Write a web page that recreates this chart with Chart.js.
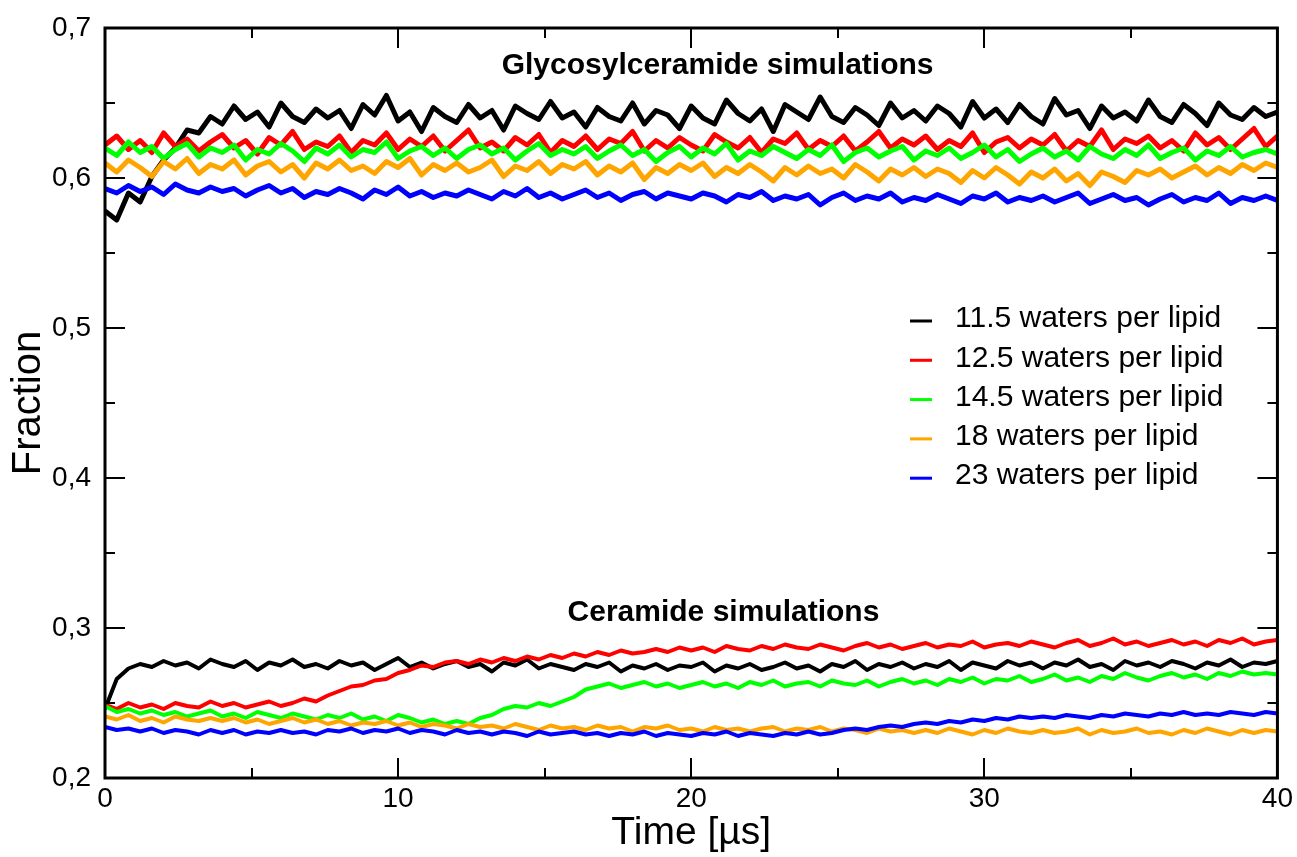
<!DOCTYPE html>
<html>
<head>
<meta charset="utf-8">
<script src="https://cdn.jsdelivr.net/npm/chart.js@4/dist/chart.umd.min.js"></script>
<style>
  body { margin: 0; background: #fff; }
  canvas { display: block; }
</style>
</head>
<body>
<canvas id="chart" width="1297" height="857"></canvas>
<script>
// sample times in microseconds (every 0.4 us)
const times = Array.from({ length: 101 }, (_, i) => +(i * 0.4).toFixed(1));

const seriesLabels = ['11.5 waters per lipid', '12.5 waters per lipid', '14.5 waters per lipid', '18 waters per lipid', '23 waters per lipid'];
const seriesColors = ['#000000', '#ff0000', '#00ff00', '#ffa500', '#0000ff'];

// Glycosylceramide simulations
const glcBlack = [
  0.578, 0.572, 0.590, 0.584, 0.601, 0.612, 0.620, 0.632, 0.630, 0.641,
  0.636, 0.648, 0.639, 0.644, 0.634, 0.650, 0.641, 0.637, 0.646, 0.640,
  0.645, 0.633, 0.649, 0.642, 0.655, 0.638, 0.644, 0.631, 0.647, 0.641,
  0.637, 0.649, 0.640, 0.645, 0.632, 0.648, 0.643, 0.639, 0.651, 0.640,
  0.644, 0.634, 0.647, 0.641, 0.638, 0.650, 0.636, 0.645, 0.642, 0.633,
  0.648, 0.640, 0.636, 0.652, 0.643, 0.638, 0.646, 0.631, 0.649, 0.644,
  0.639, 0.654, 0.641, 0.637, 0.647, 0.642, 0.635, 0.650, 0.640, 0.645,
  0.638, 0.648, 0.643, 0.634, 0.651, 0.640, 0.646, 0.637, 0.649, 0.641,
  0.636, 0.653, 0.642, 0.645, 0.633, 0.648, 0.640, 0.644, 0.638, 0.652,
  0.641, 0.637, 0.649, 0.643, 0.635, 0.650, 0.642, 0.639, 0.647, 0.641,
  0.644
];
const glcRed = [
  0.622, 0.628, 0.619, 0.625, 0.617, 0.630, 0.621, 0.626, 0.618, 0.624,
  0.629, 0.620, 0.625, 0.616, 0.627, 0.622, 0.631, 0.619, 0.624, 0.621,
  0.628, 0.617, 0.625, 0.622, 0.630, 0.619, 0.626, 0.621, 0.628, 0.618,
  0.625, 0.632, 0.620, 0.624, 0.618, 0.627, 0.622, 0.629, 0.617, 0.625,
  0.621, 0.628, 0.619, 0.626, 0.623, 0.631, 0.618, 0.625, 0.620, 0.627,
  0.622, 0.618, 0.629, 0.624, 0.620, 0.627, 0.617, 0.626, 0.623, 0.630,
  0.619, 0.625, 0.621, 0.628, 0.618, 0.624, 0.631, 0.620, 0.626, 0.622,
  0.628, 0.619, 0.625, 0.621, 0.630, 0.617, 0.624, 0.627, 0.620, 0.626,
  0.622, 0.629, 0.618, 0.625, 0.621, 0.632, 0.619, 0.626, 0.623, 0.628,
  0.620, 0.625, 0.618, 0.630, 0.622, 0.627, 0.619, 0.626, 0.633, 0.621,
  0.628
];
const glcGreen = [
  0.620, 0.615, 0.624, 0.617, 0.621, 0.613, 0.619, 0.623, 0.614, 0.620,
  0.617, 0.622, 0.612, 0.619, 0.616, 0.623, 0.618, 0.611, 0.620, 0.616,
  0.622, 0.614, 0.619, 0.617, 0.624, 0.613, 0.618, 0.621, 0.615, 0.620,
  0.613, 0.619, 0.622, 0.616, 0.620, 0.612, 0.618, 0.623, 0.615, 0.619,
  0.616, 0.621, 0.613, 0.618, 0.622, 0.615, 0.619, 0.611, 0.617, 0.621,
  0.614, 0.620, 0.616, 0.623, 0.612, 0.618, 0.615, 0.621, 0.617, 0.613,
  0.619, 0.615, 0.622, 0.611, 0.617, 0.620, 0.614, 0.618, 0.621, 0.612,
  0.618, 0.615, 0.620, 0.613, 0.617, 0.622, 0.614, 0.619, 0.611, 0.616,
  0.620, 0.614, 0.618, 0.612, 0.621, 0.616, 0.613, 0.619, 0.615, 0.622,
  0.613, 0.617, 0.620, 0.612, 0.618, 0.615, 0.621, 0.614, 0.617, 0.619,
  0.616
];
const glcOrange = [
  0.610, 0.604, 0.612, 0.607, 0.601, 0.611, 0.606, 0.613, 0.603, 0.609,
  0.606, 0.612, 0.602, 0.608, 0.611, 0.604, 0.609, 0.600, 0.610, 0.606,
  0.612, 0.605, 0.608, 0.603, 0.611, 0.607, 0.613, 0.602, 0.609, 0.605,
  0.610, 0.604, 0.607, 0.612, 0.601, 0.608, 0.605, 0.611, 0.603, 0.609,
  0.606, 0.611, 0.602, 0.608, 0.604, 0.610, 0.599, 0.607, 0.603, 0.609,
  0.605, 0.610, 0.601, 0.607, 0.603, 0.609, 0.604, 0.598, 0.607, 0.602,
  0.608, 0.603, 0.606, 0.600, 0.609, 0.604, 0.598, 0.606, 0.602, 0.607,
  0.601, 0.606, 0.603, 0.597, 0.605, 0.600, 0.607, 0.602, 0.596, 0.604,
  0.600, 0.606, 0.598, 0.603, 0.595, 0.604, 0.601, 0.597, 0.605, 0.602,
  0.606, 0.600, 0.604, 0.608, 0.602, 0.607, 0.603, 0.609, 0.605, 0.610,
  0.607
];
const glcBlue = [
  0.593, 0.590, 0.595, 0.591, 0.594, 0.589, 0.596, 0.592, 0.590, 0.594,
  0.591, 0.593, 0.588, 0.592, 0.595, 0.590, 0.593, 0.587, 0.591, 0.589,
  0.593, 0.590, 0.586, 0.592, 0.589, 0.594, 0.588, 0.591, 0.587, 0.590,
  0.588, 0.592, 0.589, 0.586, 0.591, 0.588, 0.593, 0.587, 0.590, 0.586,
  0.589, 0.592, 0.587, 0.590, 0.585, 0.589, 0.591, 0.586, 0.590, 0.588,
  0.586, 0.590, 0.588, 0.584, 0.589, 0.587, 0.591, 0.585, 0.588, 0.586,
  0.589, 0.582, 0.587, 0.590, 0.585, 0.588, 0.586, 0.590, 0.584, 0.587,
  0.585, 0.589, 0.586, 0.583, 0.588, 0.586, 0.590, 0.584, 0.587, 0.585,
  0.588, 0.584, 0.587, 0.590, 0.583, 0.586, 0.589, 0.585, 0.587, 0.582,
  0.586, 0.589, 0.584, 0.587, 0.585, 0.590, 0.583, 0.587, 0.585, 0.588,
  0.585
];

// Ceramide simulations
const cerBlack = [
  0.246, 0.266, 0.273, 0.276, 0.274, 0.278, 0.275, 0.277, 0.273, 0.279,
  0.276, 0.274, 0.278, 0.272, 0.277, 0.275, 0.279, 0.274, 0.276, 0.273,
  0.278, 0.275, 0.277, 0.272, 0.276, 0.280, 0.274, 0.277, 0.273, 0.276,
  0.278, 0.274, 0.276, 0.271, 0.277, 0.275, 0.279, 0.273, 0.276, 0.274,
  0.272, 0.276, 0.274, 0.277, 0.271, 0.275, 0.273, 0.276, 0.272, 0.275,
  0.274, 0.277, 0.271, 0.275, 0.273, 0.276, 0.272, 0.274, 0.277, 0.273,
  0.275, 0.271, 0.276, 0.274, 0.278, 0.272, 0.276, 0.274, 0.277, 0.273,
  0.276, 0.274, 0.278, 0.272, 0.277, 0.275, 0.273, 0.278, 0.275, 0.277,
  0.273, 0.277, 0.275, 0.279, 0.274, 0.276, 0.272, 0.278, 0.275, 0.277,
  0.274, 0.278, 0.276, 0.273, 0.277, 0.275, 0.279, 0.274, 0.277, 0.276,
  0.278
];
const cerRed = [
  0.249, 0.246, 0.250, 0.247, 0.249, 0.246, 0.250, 0.248, 0.247, 0.251,
  0.248, 0.250, 0.247, 0.249, 0.251, 0.248, 0.250, 0.253, 0.251, 0.255,
  0.258, 0.261, 0.262, 0.265, 0.266, 0.270, 0.272, 0.275, 0.274, 0.277,
  0.278, 0.276, 0.279, 0.277, 0.280, 0.278, 0.281, 0.279, 0.282, 0.280,
  0.283, 0.281, 0.284, 0.282, 0.285, 0.283, 0.284, 0.286, 0.284, 0.287,
  0.285, 0.287, 0.284, 0.288, 0.286, 0.285, 0.288, 0.286, 0.289, 0.287,
  0.286, 0.289, 0.287, 0.285, 0.288, 0.290, 0.287, 0.289, 0.286, 0.288,
  0.290, 0.287, 0.289, 0.288, 0.291, 0.287, 0.289, 0.290, 0.288, 0.291,
  0.289, 0.287, 0.290, 0.292, 0.288, 0.290, 0.293, 0.289, 0.291, 0.288,
  0.290, 0.292, 0.289, 0.291, 0.288, 0.292, 0.290, 0.293, 0.289, 0.291,
  0.292
];
const cerGreen = [
  0.248, 0.244, 0.246, 0.243, 0.245, 0.242, 0.244, 0.241, 0.243, 0.245,
  0.241, 0.243, 0.240, 0.244, 0.242, 0.240, 0.243, 0.241, 0.239, 0.242,
  0.240, 0.243, 0.239, 0.241, 0.238, 0.242, 0.240, 0.237, 0.239, 0.236,
  0.238, 0.236, 0.240, 0.242, 0.246, 0.248, 0.247, 0.250, 0.248, 0.251,
  0.254, 0.259, 0.261, 0.263, 0.260, 0.262, 0.264, 0.261, 0.263, 0.260,
  0.262, 0.264, 0.261, 0.263, 0.260, 0.264, 0.262, 0.265, 0.261, 0.263,
  0.264, 0.261, 0.265, 0.263, 0.262, 0.265, 0.261, 0.264, 0.266, 0.263,
  0.265, 0.262, 0.266, 0.264, 0.267, 0.263, 0.266, 0.265, 0.268, 0.264,
  0.266, 0.269, 0.265, 0.267, 0.264, 0.268, 0.266, 0.270, 0.267, 0.265,
  0.268, 0.270, 0.267, 0.269, 0.266, 0.270, 0.268, 0.271, 0.269, 0.270,
  0.269
];
const cerOrange = [
  0.241, 0.239, 0.242, 0.238, 0.240, 0.237, 0.241, 0.239, 0.238, 0.240,
  0.238, 0.240, 0.237, 0.239, 0.236, 0.238, 0.240, 0.237, 0.239, 0.236,
  0.238, 0.235, 0.237, 0.236, 0.238, 0.235, 0.237, 0.234, 0.236, 0.235,
  0.233, 0.236, 0.234, 0.235, 0.233, 0.236, 0.234, 0.232, 0.235, 0.233,
  0.234, 0.232, 0.235, 0.233, 0.234, 0.231, 0.234, 0.233, 0.235, 0.232,
  0.233, 0.231, 0.234, 0.232, 0.233, 0.231, 0.233, 0.234, 0.231, 0.233,
  0.232, 0.234, 0.231, 0.233, 0.232, 0.230, 0.233, 0.231, 0.232, 0.230,
  0.232, 0.230, 0.233, 0.231, 0.229, 0.232, 0.230, 0.233, 0.231, 0.230,
  0.232, 0.230, 0.231, 0.233, 0.229, 0.232, 0.230, 0.231, 0.233, 0.230,
  0.231, 0.229, 0.232, 0.230, 0.233, 0.231, 0.229, 0.232, 0.230, 0.232,
  0.231
];
const cerBlue = [
  0.234, 0.232, 0.233, 0.231, 0.233, 0.230, 0.232, 0.231, 0.229, 0.232,
  0.230, 0.232, 0.229, 0.231, 0.230, 0.232, 0.230, 0.231, 0.229, 0.232,
  0.231, 0.233, 0.230, 0.232, 0.231, 0.233, 0.230, 0.232, 0.231, 0.229,
  0.232, 0.230, 0.231, 0.229, 0.231, 0.230, 0.228, 0.231, 0.229, 0.230,
  0.231, 0.229, 0.230, 0.228, 0.230, 0.229, 0.231, 0.228, 0.230, 0.229,
  0.228, 0.230, 0.229, 0.231, 0.228, 0.230, 0.229, 0.228, 0.230, 0.229,
  0.231, 0.229, 0.230, 0.232, 0.233, 0.232, 0.234, 0.235, 0.234, 0.236,
  0.237, 0.236, 0.238, 0.237, 0.239, 0.238, 0.240, 0.239, 0.241, 0.240,
  0.241, 0.240, 0.242, 0.241, 0.240, 0.242, 0.241, 0.243, 0.242, 0.241,
  0.243, 0.242, 0.244, 0.242, 0.243, 0.242, 0.244, 0.243, 0.242, 0.244,
  0.243
];

const glcSeries = [glcBlack, glcRed, glcGreen, glcOrange, glcBlue];
const cerSeries = [cerBlack, cerRed, cerGreen, cerOrange, cerBlue];

const FONT = '"Liberation Sans", Arial, Helvetica, sans-serif';

function toPoints(values) {
  return values.map((v, i) => ({ x: times[i], y: v }));
}

const datasets = [];
glcSeries.forEach((vals, i) => {
  datasets.push({
    label: seriesLabels[i],
    data: toPoints(vals),
    borderColor: seriesColors[i],
    borderWidth: 5,
    borderJoinStyle: 'round',
    pointRadius: 0,
    order: 10 - i,
  });
});
cerSeries.forEach((vals, i) => {
  datasets.push({
    label: seriesLabels[i] + ' (ceramide)',
    data: toPoints(vals),
    borderColor: seriesColors[i],
    borderWidth: 4,
    borderJoinStyle: 'round',
    pointRadius: 0,
    order: 5 - i,
  });
});

// inward ticks on all four sides, frame, captions and legend
const frameTicks = {
  id: 'frameTicks',
  afterDatasetsDraw(chart) {
    const { ctx, chartArea: a, scales } = chart;
    const xs = scales.x, ys = scales.y;
    ctx.save();
    ctx.strokeStyle = '#000';
    ctx.lineWidth = 2;
    [0.2, 0.25, 0.3, 0.35, 0.4, 0.45, 0.5, 0.55, 0.6, 0.65, 0.7].forEach((v, i) => {
      const y = Math.round(ys.getPixelForValue(v));
      const len = i % 2 === 0 ? 20 : 10;
      ctx.beginPath();
      ctx.moveTo(a.left, y); ctx.lineTo(a.left + len, y);
      ctx.moveTo(a.right, y); ctx.lineTo(a.right - len, y);
      ctx.stroke();
    });
    [0, 5, 10, 15, 20, 25, 30, 35, 40].forEach((v, i) => {
      const x = Math.round(xs.getPixelForValue(v));
      const len = i % 2 === 0 ? 20 : 10;
      ctx.beginPath();
      ctx.moveTo(x, a.bottom); ctx.lineTo(x, a.bottom - len);
      ctx.moveTo(x, a.top); ctx.lineTo(x, a.top + len);
      ctx.stroke();
    });
    ctx.lineWidth = 3;
    ctx.strokeRect(a.left, a.top, a.right - a.left, a.bottom - a.top);

    ctx.fillStyle = '#000';
    ctx.font = 'bold 30px ' + FONT;
    ctx.textAlign = 'center';
    ctx.textBaseline = 'middle';
    ctx.fillText('Glycosylceramide simulations', xs.getPixelForValue(20.9), ys.getPixelForValue(0.675));
    ctx.fillText('Ceramide simulations', xs.getPixelForValue(21.1), ys.getPixelForValue(0.310));

    ctx.font = '30px ' + FONT;
    ctx.textAlign = 'left';
    seriesLabels.forEach((lab, i) => {
      const y = 319 + i * 39.3;
      ctx.strokeStyle = seriesColors[i];
      ctx.lineWidth = 3;
      ctx.beginPath();
      ctx.moveTo(910, y + 2); ctx.lineTo(932, y + 2);
      ctx.stroke();
      ctx.fillStyle = '#000';
      ctx.fillText(lab, 955, y);
    });
    ctx.restore();
  }
};

new Chart(document.getElementById('chart'), {
  type: 'line',
  data: { datasets: datasets },
  options: {
    responsive: false,
    animation: false,
    devicePixelRatio: 1,
    layout: { padding: { top: 20, right: 14, left: 0, bottom: 0 } },
    plugins: {
      legend: { display: false },
      tooltip: { enabled: false },
    },
    scales: {
      x: {
        type: 'linear',
        min: 0,
        max: 40,
        grid: { display: false, drawTicks: false },
        border: { display: false },
        ticks: {
          stepSize: 10,
          padding: 4,
          color: '#000',
          font: { family: FONT, size: 28 },
        },
        title: {
          display: true,
          text: 'Time [µs]',
          color: '#000',
          font: { family: FONT, size: 39 },
          padding: { top: 0, bottom: 0 },
        },
        afterFit(scale) { scale.height = 79; },
      },
      y: {
        min: 0.2,
        max: 0.7,
        grid: { display: false, drawTicks: false },
        border: { display: false },
        ticks: {
          stepSize: 0.1,
          padding: 14,
          color: '#000',
          font: { family: FONT, size: 28, lineHeight: 1 },
          callback: (v) => v.toFixed(1).replace('.', ','),
        },
        title: {
          display: true,
          text: 'Fraction',
          color: '#000',
          font: { family: FONT, size: 40 },
          padding: { top: 5, bottom: 0 },
        },
        afterFit(scale) { scale.width = 105; },
      },
    },
  },
  plugins: [frameTicks],
});
</script>
</body>
</html>
